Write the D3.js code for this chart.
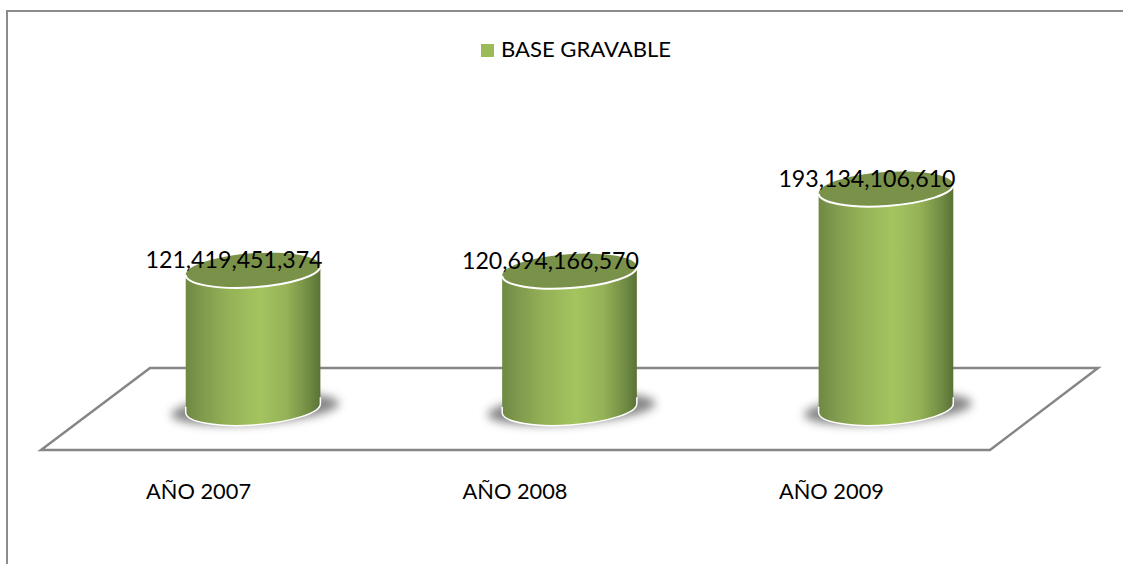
<!DOCTYPE html>
<html lang="es">
<head>
  <meta charset="UTF-8">
  <title>Base gravable</title>
  <script src="https://d3js.org/d3.v7.min.js"></script>
  <style>
    body { margin: 0; background: #fff; }
    svg { display: block; }
    text { font-family: Lato, "Open Sans", sans-serif; fill: #000; }
  </style>
</head>
<body>
  <svg id="chart" width="1123" height="564"></svg>
  <script>
const categories = ["AÑO 2007", "AÑO 2008", "AÑO 2009"];
const values = [121419451374, 120694166570, 193134106610];
const seriesName = "BASE GRAVABLE";

const rx = 67.5, ry = 17, tilt = -4; // cylinder ends
const rad = tilt * Math.PI / 180;
const ex = rx * Math.cos(rad), ey = rx * Math.sin(rad);

const svg = d3.select("#chart");
const defs = svg.append("defs");

const grad = defs.append("linearGradient").attr("id", "body");
[[0, "#6f8843"], [0.12, "#7f9a4d"], [0.3, "#93b056"], [0.55, "#a4c45f"], [0.75, "#95b257"], [0.92, "#6f8a42"], [1, "#5a7136"]]
  .forEach(s => grad.append("stop").attr("offset", s[0]).attr("stop-color", s[1]));

defs.append("filter").attr("id", "blur")
  .attr("x", "-30%").attr("y", "-60%").attr("width", "160%").attr("height", "220%")
  .append("feGaussianBlur").attr("stdDeviation", 5);

const x = d3.scaleBand().domain(categories).range([185.5, 953.5]).paddingInner(0.573);
const y = d3.scaleLinear().domain([0, 250e9]).range([408, 124.5]);

// chart frame, only top and left are visible
svg.append("path")
  .attr("d", "M7,564V11H1123")
  .attr("fill", "none").attr("stroke", "#8c8c8c").attr("stroke-width", 2);

// floor
svg.append("path")
  .attr("d", "M150,368H1098L990,450H41Z")
  .attr("fill", "none").attr("stroke", "#868686").attr("stroke-width", 2.5);

// legend
svg.append("rect").attr("x", 481).attr("y", 44).attr("width", 13).attr("height", 13).attr("fill", "#9bbb59");
svg.append("text").attr("x", 501).attr("y", 57).attr("font-size", 21)
  .attr("textLength", 170).attr("lengthAdjust", "spacingAndGlyphs").text(seriesName);

const bars = svg.selectAll("g.bar").data(categories).enter().append("g")
  .attr("class", "bar")
  .attr("transform", d => `translate(${x(d) + x.bandwidth() / 2},0)`);

bars.append("ellipse")
  .attr("rx", 84).attr("ry", 15)
  .attr("transform", `translate(2,${y(0) + 1}) rotate(${tilt})`)
  .attr("fill", "#666").attr("opacity", 0.8).attr("filter", "url(#blur)");

bars.append("path")
  .attr("d", (d, i) => `M${-ex},${y(values[i]) - ey}V${y(0) - ey}A${rx},${ry} ${tilt} 0 0 ${ex},${y(0) + ey}V${y(values[i]) + ey}Z`)
  .attr("fill", "url(#body)");

// white rim round the foot
bars.append("path")
  .attr("d", () => `M${-ex},${y(0) - ey - 6}V${y(0) - ey}A${rx},${ry} ${tilt} 0 0 ${ex},${y(0) + ey}V${y(0) + ey - 6}`)
  .attr("fill", "none").attr("stroke", "#fff").attr("stroke-width", 1.5);

bars.append("ellipse")
  .attr("rx", rx).attr("ry", ry)
  .attr("transform", (d, i) => `translate(0,${y(values[i])}) rotate(${tilt})`)
  .attr("fill", "#7a9149");

// white rim under the top
bars.append("path")
  .attr("d", (d, i) => `M${-ex},${y(values[i]) - ey}A${rx},${ry} ${tilt} 0 0 ${ex},${y(values[i]) + ey}`)
  .attr("fill", "none").attr("stroke", "#fff").attr("stroke-width", 2);

// value labels sit to the left of the bar centre
bars.append("text")
  .attr("x", -107.5)
  .attr("y", (d, i) => y(values[i]) - 2)
  .attr("font-size", 23)
  .attr("textLength", 177).attr("lengthAdjust", "spacingAndGlyphs")
  .text((d, i) => d3.format(",")(values[i]));

// category axis
const axis = svg.append("g")
  .attr("transform", "translate(0,499)")
  .call(d3.axisBottom(x).tickSize(0));
axis.select(".domain").remove();
axis.selectAll("text")
  .attr("font-size", 22)
  .attr("y", 0).attr("dy", 0)
  .attr("text-anchor", "start")
  .attr("x", -107)
  .attr("textLength", 105).attr("lengthAdjust", "spacingAndGlyphs")
  .style("font-family", "Lato, sans-serif");
  </script>
</body>
</html>
